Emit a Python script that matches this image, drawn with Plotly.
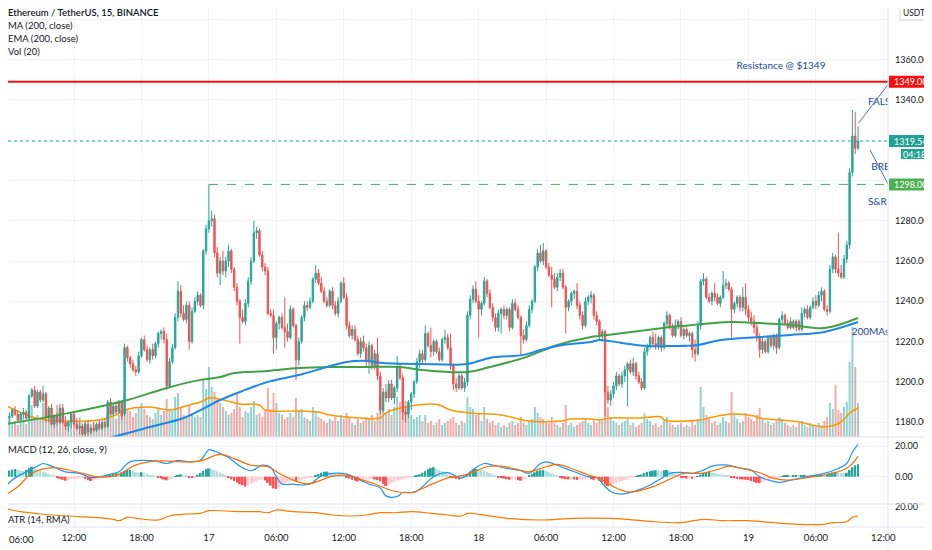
import pandas as pd
import plotly.graph_objects as go

# ETH/USDT 15m candles (Binance)
opens = [
    1180, 1182, 1184, 1182, 1183, 1186, 1184, 1181, 1184, 1185,
    1182, 1193, 1196, 1188, 1195, 1191, 1194, 1182, 1187, 1179,
    1183, 1180, 1187, 1180, 1178, 1180, 1184, 1179, 1177, 1178,
    1174, 1179, 1175, 1177, 1176, 1179, 1177, 1180, 1178, 1190,
    1184, 1188, 1185, 1190, 1184, 1217, 1212, 1209, 1206, 1205,
    1213, 1221, 1216, 1211, 1216, 1213, 1219, 1224, 1225, 1221,
    1198, 1210, 1217, 1232, 1245, 1234, 1231, 1238, 1220, 1235,
    1240, 1243, 1238, 1265, 1276, 1280, 1281, 1264, 1254, 1260,
    1255, 1260, 1265, 1256, 1247, 1240, 1232, 1230, 1239, 1250,
    1260, 1274, 1275, 1263, 1257, 1255, 1234, 1233, 1222, 1229,
    1232, 1227, 1225, 1222, 1236, 1228, 1211, 1220, 1232, 1238,
    1237, 1240, 1251, 1254, 1249, 1245, 1240, 1238, 1245, 1238,
    1234, 1240, 1249, 1242, 1228, 1223, 1226, 1221, 1214, 1220,
    1217, 1210, 1218, 1208, 1214, 1203, 1186, 1195, 1192, 1199,
    1192, 1197, 1207, 1202, 1185, 1184, 1190, 1194, 1200, 1210,
    1214, 1211, 1224, 1218, 1215, 1220, 1215, 1211, 1221, 1222,
    1217, 1208, 1199, 1197, 1203, 1197, 1200, 1233, 1241, 1246,
    1240, 1236, 1239, 1250, 1244, 1237, 1232, 1227, 1234, 1236,
    1233, 1236, 1227, 1239, 1236, 1232, 1223, 1221, 1228, 1236,
    1240, 1257, 1264, 1260, 1265, 1257, 1253, 1251, 1247, 1252,
    1254, 1247, 1237, 1240, 1244, 1245, 1238, 1233, 1228, 1240,
    1242, 1243, 1233, 1230, 1223, 1225, 1195, 1191, 1194, 1198,
    1203, 1199, 1203, 1206, 1209, 1205, 1209, 1203, 1200, 1197,
    1215, 1218, 1222, 1219, 1218, 1222, 1217, 1229, 1233, 1227,
    1223, 1228, 1230, 1223, 1226, 1223, 1224, 1216, 1214, 1228,
    1250, 1251, 1242, 1240, 1244, 1242, 1239, 1242, 1248, 1249,
    1246, 1236, 1239, 1242, 1237, 1242, 1236, 1232, 1230, 1227,
    1222, 1216, 1220, 1215, 1222, 1218, 1223, 1217, 1231, 1233,
    1229, 1227, 1230, 1227, 1230, 1226, 1234, 1236, 1232, 1237,
    1240, 1238, 1243, 1245, 1236, 1235, 1256, 1262, 1256, 1254,
    1252, 1261, 1268, 1304, 1322, 1316,
]
highs = [
    1184, 1186, 1187, 1185, 1187, 1188, 1186, 1185, 1187, 1186,
    1194, 1197, 1198, 1196, 1196, 1198, 1195, 1188, 1189, 1184,
    1185, 1189, 1189, 1183, 1181, 1185, 1185, 1182, 1180, 1179,
    1180, 1181, 1179, 1180, 1180, 1181, 1181, 1182, 1191, 1192,
    1189, 1190, 1191, 1191, 1219, 1218, 1213, 1211, 1208, 1215,
    1222, 1223, 1218, 1217, 1219, 1220, 1225, 1226, 1227, 1224,
    1212, 1219, 1234, 1250, 1248, 1238, 1240, 1240, 1237, 1242,
    1245, 1244, 1266, 1278, 1298, 1285, 1283, 1267, 1262, 1265,
    1262, 1268, 1266, 1257, 1249, 1241, 1236, 1241, 1252, 1262,
    1280, 1277, 1276, 1265, 1259, 1257, 1236, 1236, 1230, 1233,
    1234, 1242, 1229, 1238, 1237, 1229, 1222, 1233, 1240, 1240,
    1242, 1252, 1258, 1256, 1252, 1247, 1242, 1246, 1247, 1240,
    1242, 1250, 1252, 1244, 1230, 1228, 1228, 1223, 1222, 1223,
    1219, 1220, 1219, 1216, 1222, 1205, 1197, 1199, 1201, 1201,
    1198, 1213, 1209, 1204, 1188, 1191, 1195, 1201, 1212, 1216,
    1216, 1228, 1225, 1227, 1221, 1221, 1217, 1222, 1226, 1224,
    1224, 1209, 1202, 1204, 1204, 1202, 1235, 1243, 1248, 1250,
    1243, 1240, 1252, 1251, 1246, 1239, 1234, 1236, 1237, 1238,
    1237, 1237, 1241, 1241, 1238, 1233, 1226, 1230, 1238, 1241,
    1258, 1266, 1268, 1269, 1266, 1259, 1257, 1254, 1254, 1256,
    1256, 1248, 1241, 1245, 1246, 1249, 1240, 1235, 1242, 1243,
    1245, 1244, 1235, 1231, 1226, 1226, 1198, 1196, 1200, 1205,
    1204, 1205, 1208, 1210, 1211, 1212, 1210, 1205, 1202, 1217,
    1219, 1223, 1225, 1224, 1223, 1223, 1230, 1235, 1234, 1229,
    1231, 1231, 1232, 1227, 1227, 1225, 1225, 1221, 1230, 1251,
    1254, 1252, 1244, 1245, 1249, 1244, 1243, 1255, 1251, 1250,
    1247, 1240, 1243, 1243, 1247, 1249, 1238, 1235, 1233, 1229,
    1224, 1222, 1221, 1223, 1223, 1224, 1224, 1232, 1235, 1234,
    1231, 1232, 1231, 1231, 1231, 1237, 1237, 1238, 1238, 1242,
    1243, 1245, 1247, 1246, 1238, 1258, 1264, 1263, 1274, 1258,
    1263, 1270, 1306, 1335, 1334, 1327,
]
lows = [
    1177, 1180, 1181, 1179, 1182, 1183, 1180, 1180, 1182, 1181,
    1181, 1192, 1187, 1187, 1190, 1190, 1180, 1180, 1178, 1177,
    1178, 1179, 1179, 1176, 1175, 1177, 1178, 1176, 1174, 1172,
    1173, 1173, 1174, 1175, 1175, 1176, 1176, 1177, 1177, 1183,
    1183, 1184, 1184, 1181, 1183, 1210, 1207, 1205, 1203, 1204,
    1212, 1215, 1210, 1209, 1211, 1212, 1217, 1221, 1219, 1196,
    1197, 1209, 1216, 1230, 1232, 1230, 1229, 1216, 1219, 1234,
    1238, 1237, 1236, 1263, 1274, 1277, 1262, 1252, 1248, 1253,
    1252, 1257, 1254, 1245, 1238, 1219, 1229, 1228, 1237, 1248,
    1259, 1271, 1262, 1255, 1253, 1233, 1232, 1214, 1216, 1226,
    1226, 1217, 1220, 1221, 1227, 1201, 1208, 1219, 1230, 1235,
    1236, 1239, 1249, 1248, 1244, 1239, 1237, 1237, 1236, 1233,
    1232, 1239, 1241, 1226, 1222, 1221, 1220, 1213, 1212, 1215,
    1208, 1204, 1206, 1206, 1201, 1184, 1185, 1190, 1190, 1191,
    1189, 1195, 1201, 1181, 1180, 1182, 1186, 1192, 1199, 1207,
    1209, 1210, 1217, 1212, 1213, 1214, 1210, 1210, 1219, 1216,
    1206, 1196, 1195, 1196, 1196, 1195, 1198, 1231, 1239, 1239,
    1222, 1233, 1238, 1242, 1236, 1230, 1225, 1225, 1224, 1231,
    1231, 1225, 1226, 1235, 1231, 1213, 1219, 1220, 1227, 1234,
    1239, 1255, 1259, 1258, 1256, 1252, 1237, 1246, 1245, 1250,
    1246, 1224, 1235, 1238, 1241, 1236, 1231, 1226, 1227, 1238,
    1239, 1231, 1228, 1221, 1220, 1183, 1189, 1188, 1192, 1196,
    1198, 1197, 1200, 1188, 1204, 1203, 1201, 1199, 1196, 1196,
    1213, 1216, 1218, 1216, 1216, 1215, 1216, 1227, 1226, 1222,
    1222, 1226, 1222, 1221, 1222, 1220, 1212, 1210, 1213, 1226,
    1248, 1241, 1239, 1238, 1240, 1238, 1237, 1241, 1246, 1245,
    1222, 1234, 1237, 1235, 1235, 1233, 1230, 1228, 1224, 1220,
    1212, 1214, 1214, 1214, 1217, 1216, 1214, 1216, 1229, 1228,
    1226, 1226, 1226, 1225, 1225, 1225, 1232, 1231, 1231, 1236,
    1236, 1237, 1240, 1235, 1233, 1234, 1254, 1254, 1252, 1251,
    1251, 1259, 1266, 1302, 1313, 1315,
]
closes = [
    1182, 1184, 1182, 1183, 1186, 1184, 1181, 1184, 1185, 1182,
    1193, 1196, 1188, 1195, 1191, 1194, 1182, 1187, 1179, 1183,
    1180, 1187, 1180, 1178, 1180, 1184, 1179, 1177, 1178, 1174,
    1179, 1175, 1177, 1176, 1179, 1177, 1180, 1178, 1190, 1184,
    1188, 1185, 1190, 1183, 1217, 1212, 1209, 1206, 1205, 1213,
    1221, 1216, 1211, 1216, 1213, 1219, 1224, 1225, 1221, 1198,
    1210, 1217, 1232, 1245, 1234, 1231, 1238, 1220, 1235, 1240,
    1243, 1238, 1265, 1276, 1280, 1281, 1264, 1254, 1260, 1255,
    1260, 1265, 1256, 1247, 1240, 1232, 1230, 1239, 1250, 1260,
    1274, 1275, 1263, 1257, 1255, 1234, 1233, 1222, 1229, 1232,
    1227, 1225, 1222, 1236, 1228, 1211, 1220, 1232, 1238, 1237,
    1240, 1251, 1254, 1249, 1245, 1240, 1238, 1245, 1238, 1234,
    1240, 1249, 1242, 1228, 1223, 1226, 1221, 1214, 1220, 1217,
    1210, 1218, 1208, 1214, 1203, 1186, 1195, 1192, 1199, 1192,
    1197, 1207, 1202, 1185, 1184, 1190, 1194, 1200, 1210, 1214,
    1211, 1224, 1218, 1215, 1220, 1215, 1211, 1221, 1222, 1217,
    1208, 1199, 1197, 1203, 1197, 1200, 1233, 1241, 1246, 1240,
    1236, 1239, 1250, 1244, 1237, 1232, 1227, 1234, 1236, 1233,
    1236, 1227, 1239, 1236, 1232, 1223, 1221, 1228, 1236, 1240,
    1257, 1264, 1260, 1265, 1257, 1253, 1251, 1247, 1252, 1254,
    1247, 1237, 1240, 1244, 1245, 1238, 1233, 1228, 1240, 1242,
    1243, 1233, 1230, 1223, 1225, 1195, 1191, 1194, 1198, 1203,
    1199, 1203, 1206, 1209, 1205, 1209, 1203, 1200, 1197, 1215,
    1218, 1222, 1219, 1218, 1222, 1217, 1229, 1233, 1227, 1223,
    1228, 1230, 1223, 1226, 1223, 1224, 1216, 1214, 1228, 1250,
    1251, 1242, 1240, 1244, 1242, 1239, 1242, 1248, 1249, 1246,
    1236, 1239, 1242, 1237, 1242, 1236, 1232, 1230, 1227, 1222,
    1216, 1220, 1215, 1222, 1218, 1223, 1217, 1231, 1233, 1229,
    1227, 1230, 1227, 1230, 1226, 1234, 1236, 1232, 1237, 1240,
    1238, 1243, 1245, 1236, 1235, 1256, 1262, 1256, 1254, 1252,
    1261, 1268, 1304, 1322, 1316, 1319.54,
]
# volume in hundreds of ETH
volume = [
    28, 14, 11, 18, 14, 16, 12, 15, 20, 13,
    26, 32, 20, 22, 18, 34, 26, 16, 20, 14,
    32, 18, 24, 14, 16, 20, 12, 15, 20, 14,
    16, 12, 10, 14, 11, 15, 12, 13, 34, 26,
    20, 18, 22, 33, 44, 28, 26, 20, 24, 30,
    34, 28, 22, 20, 18, 24, 30, 22, 26, 38,
    28, 26, 40, 44, 30, 22, 20, 32, 24, 20,
    22, 20, 57, 48, 70, 50, 45, 38, 34, 30,
    26, 22, 24, 28, 43, 30, 20, 26, 24, 30,
    36, 22, 24, 20, 26, 49, 28, 44, 34, 24,
    22, 18, 20, 24, 20, 39, 26, 28, 20, 18,
    16, 30, 26, 20, 18, 16, 14, 18, 16, 20,
    16, 22, 18, 24, 20, 14, 12, 18, 14, 16,
    20, 18, 22, 16, 24, 41, 30, 24, 28, 22,
    30, 40, 35, 50, 36, 30, 22, 18, 20, 22,
    16, 22, 14, 16, 12, 14, 18, 12, 14, 16,
    18, 20, 14, 12, 16, 14, 40, 30, 28, 22,
    24, 16, 30, 18, 14, 16, 12, 14, 10, 12,
    10, 14, 16, 12, 14, 20, 14, 12, 16, 18,
    30, 24, 20, 18, 16, 14, 20, 14, 12, 10,
    14, 32, 12, 14, 10, 12, 14, 16, 18, 14,
    12, 16, 14, 18, 16, 52, 30, 20, 16, 14,
    12, 14, 16, 18, 12, 14, 10, 12, 14, 24,
    18, 16, 12, 14, 10, 12, 16, 20, 14, 12,
    10, 12, 14, 10, 12, 10, 16, 12, 18, 50,
    30, 22, 18, 14, 16, 12, 14, 20, 16, 14,
    45, 22, 18, 14, 16, 24, 20, 18, 16, 22,
    29, 18, 14, 16, 12, 14, 16, 20, 18, 14,
    12, 10, 12, 10, 14, 16, 12, 10, 14, 12,
    10, 14, 12, 16, 20, 34, 28, 52, 27, 24,
    30, 35, 75, 110, 70, 34,
]
macd_hist = [
    2.0, 2.8, 3.5, 4.0, 4.6, 5.0, 4.6, 4.2, 3.8, 4.5,
    5.6, 6.5, 5.8, 5.0, 4.2, 3.4, 2.8, 2.0, 1.4, 0.8,
    -0.6, -1.4, -2.0, -2.6, -2.2, -1.8, -1.5, -1.2, -1.0, -0.8,
    -1.4, -2.2, -2.8, -2.4, -1.8, -1.2, -0.8, -0.5, 0.6, 1.4,
    2.0, 2.6, 2.4, 2.8, 3.8, 4.4, 4.6, 3.8, 3.0, 2.6,
    3.0, 2.4, 1.8, 1.2, 0.8, 0.4, -0.6, -1.2, -1.8, -2.4,
    -2.0, -1.6, 0.4, 1.2, 1.6, 1.0, 0.6, -0.4, -0.8, -0.4,
    1.2, 2.5, 3.8, 4.8, 5.4, 5.0, 4.2, 3.4, 2.6, 1.8,
    1.0, -0.8, -1.8, -2.8, -3.8, -4.8, -5.6, -6.4, -5.8, -4.8,
    -3.8, -2.8, -2.2, -1.8, -2.4, -4.0, -5.8, -7.6, -8.0, -6.8,
    -5.6, -4.6, -3.8, -3.0, -2.6, -3.0, -2.4, -1.8, -1.4, -1.0,
    -0.6, -0.2, 0.8, 1.8, 2.6, 3.2, 3.4, 3.0, 2.4, 1.8,
    1.2, 0.6, 0.2, -0.4, -1.2, -2.0, -2.6, -3.2, -2.8, -2.2,
    -1.8, -1.6, -1.4, -1.8, -2.2, -3.0, -4.6, -6.0, -5.4, -4.4,
    -3.6, -2.6, -2.0, -1.8, -1.2, -0.8, -0.2, 0.4, 0.8, 1.6,
    2.6, 3.6, 4.8, 5.6, 6.2, 5.4, 4.6, 3.6, 2.8, 2.0,
    -0.4, -0.8, -1.4, -1.8, -1.2, 0.4, 1.8, 3.2, 4.4, 5.2,
    5.0, 4.6, 4.0, 3.2, 2.4, 1.6, 0.8, -0.4, -0.8, -1.2,
    -1.6, -2.0, -1.8, -1.6, -2.2, -2.6, -2.0, -1.4, 0.6, 1.6,
    2.8, 3.8, 4.2, 4.4, 3.8, 3.0, 2.2, 1.4, 0.6, -0.6,
    -1.2, -1.6, -1.8, -1.6, -1.8, -2.2, -2.0, -1.8, -1.4, -1.2,
    -1.6, -2.0, -1.8, -2.6, -3.6, -5.2, -6.2, -5.6, -4.8, -4.0,
    -3.4, -2.8, -2.2, -1.6, -1.0, -0.6, 0.4, 0.8, 1.4, 2.4,
    3.2, 3.6, 4.0, 4.2, 4.0, 3.8, 4.2, 4.4, 3.6, 2.8,
    2.0, 1.2, -0.4, -0.8, -1.2, -1.0, -1.4, -0.8, 0.4, 1.4,
    2.4, 3.0, 3.2, 2.8, 2.4, 2.0, 1.6, 1.2, 1.0, 0.6,
    -0.6, -1.0, -1.4, -1.6, -1.8, -2.0, -2.2, -2.8, -3.4, -4.0,
    -4.2, -3.6, -3.0, -2.4, -1.8, -1.2, -0.8, -0.4, 0.4, 0.6,
    0.8, 0.6, 0.8, 1.0, 0.8, 1.0, 1.2, 1.0, 0.8, 1.0,
    1.2, 1.4, 1.6, 1.2, 1.4, 2.2, 2.8, 3.2, 2.8, 2.4,
    2.2, 2.6, 4.4, 6.2, 7.4, 8.2,
]

# indicator lines, sampled at candle positions
ma200_idx = [0, 24, 45, 59, 71, 78, 83, 95, 106, 118, 130, 142, 150, 166, 174,
             186, 198, 210, 213, 230, 242, 260, 270, 281, 293, 305]
ma200 = [1178.6, 1184.5, 1191.0, 1197.0, 1201.0, 1202.4, 1204.4, 1205.4, 1206.9,
         1207.4, 1207.4, 1207.4, 1205.9, 1204.9, 1207.4, 1211.9, 1218.3, 1222.3,
         1222.8, 1225.8, 1227.7, 1229.7, 1229.2, 1228.3, 1226.7, 1231.7]
ema200_idx = [0, 21, 40, 53, 65, 71, 78, 85, 95, 106, 116, 123, 130, 136, 150, 166,
              174, 186, 192, 200, 210, 213, 221, 230, 237, 248, 256, 270, 281, 293, 305]
ema200 = [1162.0, 1167.0, 1172.7, 1177.6, 1182.1, 1186.0, 1191.0, 1195.0, 1200.0,
          1203.4, 1207.4, 1209.9, 1210.4, 1209.4, 1208.9, 1208.9, 1211.9, 1213.4,
          1215.8, 1218.3, 1219.8, 1220.8, 1219.3, 1217.8, 1217.8, 1218.3, 1220.8,
          1222.3, 1223.3, 1224.8, 1229.7]
vol_ma_idx = [0, 10, 16, 35, 41, 44, 53, 60, 67, 71, 74, 76, 82, 85, 92, 94, 106,
              113, 117, 128, 135, 137, 142, 146, 153, 156, 160, 167, 178, 188, 199,
              203, 210, 213, 217, 227, 235, 236, 249, 252, 260, 268, 270, 277, 284,
              293, 299, 302, 305]
vol_ma = [34, 21, 17, 17, 22, 27, 30, 27, 32, 35, 39, 39, 35, 33, 32, 27, 26, 25,
          22, 19, 19, 24, 29, 31, 33, 32, 27, 24, 22, 16, 16, 18, 18, 17, 19, 19,
          20, 17, 17, 19, 23, 21, 19, 17, 15, 10, 15, 24, 29]
macd_idx = [0, 4, 9, 13, 15, 18, 23, 28, 32, 35, 39, 42, 45, 47, 51, 55, 59, 63, 67,
            71, 73, 74, 78, 81, 85, 89, 93, 96, 98, 100, 104, 107, 110, 114, 118,
            123, 128, 131, 135, 137, 141, 143, 147, 150, 154, 159, 164, 168, 172,
            175, 180, 185, 188, 192, 194, 198, 204, 209, 212, 214, 217, 220, 224,
            227, 231, 235, 238, 242, 246, 250, 253, 258, 262, 267, 270, 274, 277,
            281, 287, 293, 298, 301, 303, 305]
macd_line = [-10.3, -2.1, 3.2, 6.9, 8.6, 6.9, 3.2, 2.2, -0.6, 0.0, 1.7, 3.2, 8.6,
             10.3, 10.7, 10.3, 8.6, 10.7, 9.7, 10.7, 15.5, 17.6, 15.1, 12.5, 6.9,
             3.9, 7.5, 6.0, 0.0, -4.7, -4.9, -5.4, -4.7, 0.6, 2.2, 1.7, -2.2, -4.9,
             -7.3, -12.5, -12.9, -10.3, -10.3, -6.5, 0.0, 2.6, -0.9, 4.7, 8.6, 7.5,
             5.4, 3.9, 2.2, 8.6, 9.7, 7.5, 3.2, 0.0, -0.4, -4.3, -9.7, -11.4, -10.3,
             -8.6, -5.4, -1.1, 2.2, 2.8, 2.2, 4.3, 6.9, 7.7, 6.0, 4.3, 0.0, -2.6,
             -3.7, -2.2, 0.0, 2.2, 5.4, 8.6, 16.1, 21.1]
signal_idx = [0, 6, 11, 16, 20, 25, 29, 34, 39, 43, 47, 52, 58, 64, 71, 78, 83, 89,
              95, 99, 104, 109, 114, 118, 123, 128, 134, 139, 146, 152, 159, 162,
              167, 173, 178, 184, 188, 194, 198, 204, 209, 213, 218, 223, 227, 232,
              238, 243, 249, 255, 259, 265, 270, 275, 280, 287, 293, 299, 302, 305]
signal_line = [-13.8, -6.5, 2.2, 5.4, 5.8, 3.9, 2.2, 0.0, 0.0, 2.2, 6.9, 9.5, 10.3,
               9.7, 10.3, 14.6, 11.8, 7.5, 6.5, 2.2, -2.2, -4.7, -2.2, 0.4, 0.9,
               -1.7, -5.4, -9.0, -10.3, -6.0, -0.8, 0.0, 2.2, 6.5, 6.9, 4.7, 3.2,
               6.5, 8.0, 4.7, 1.1, -1.1, -6.5, -9.9, -9.2, -6.5, -1.7, 2.2, 2.2, 4.7,
               6.9, 4.7, 2.6, -1.1, -2.2, -0.6, 1.1, 3.9, 6.9, 13.3]
atr_idx = [0, 7, 14, 24, 33, 40, 42, 45, 50, 56, 60, 66, 71, 74, 80, 86, 92, 95, 98,
           104, 112, 118, 125, 130, 135, 141, 146, 153, 159, 164, 166, 170, 180,
           192, 204, 216, 223, 232, 242, 250, 257, 266, 275, 284, 293, 296, 301,
           303, 305]
atr = [19.7, 15.3, 13.0, 11.0, 9.7, 7.7, 6.3, 9.7, 8.0, 7.0, 11.0, 13.0, 13.7, 16.3,
       16.0, 15.3, 15.3, 14.3, 17.0, 15.3, 14.3, 12.0, 11.0, 12.0, 14.3, 14.3, 15.3,
       13.7, 12.0, 11.0, 13.7, 12.7, 8.7, 7.0, 8.7, 8.7, 7.7, 5.3, 4.3, 7.7, 6.3,
       6.3, 4.3, 2.7, 2.7, 4.3, 5.3, 9.7, 11.0]

tick_times = ['2022-11-16 06:00', '2022-11-16 12:00', '2022-11-16 18:00',
              '2022-11-17 00:00', '2022-11-17 06:00', '2022-11-17 12:00',
              '2022-11-17 18:00', '2022-11-18 00:00', '2022-11-18 06:00',
              '2022-11-18 12:00', '2022-11-18 18:00', '2022-11-19 00:00',
              '2022-11-19 06:00', '2022-11-19 12:00']
tick_text = ['06:00', '12:00', '18:00', '17', '06:00', '12:00', '18:00', '18',
             '06:00', '12:00', '18:00', '19', '06:00', '12:00']
price_ticks = [1180, 1200, 1220, 1240, 1260, 1280, 1300, 1320, 1340, 1360, 1380]
# 1300/1320/1380 sit under the price tags and the USDT badge
price_text = ['1180.00', '1200.00', '1220.00', '1240.00', '1260.00', '1280.00', '',
              '', '1340.00', '1360.00', '']

resistance = 1349.0
last_price = 1319.54
breakout_level = 1298.0
countdown_y = 1313.1

times = pd.date_range('2022-11-16 05:30', periods=len(closes), freq='15min')
x_range = ['2022-11-16 06:07:41', '2022-11-19 12:25']

UP, DOWN = '#26a69a', '#ef5350'
RED = '#f70f0f'
TEAL_TAG = '#22a295'
GREEN_TAG = '#4caf50'
FONT = 'Lato, Open Sans, sans-serif'
NOTE = '#24489c'
TXT = '#131722'

vol_colors = ['rgba(38,166,154,0.5)' if c >= o else 'rgba(239,83,80,0.5)'
              for o, c in zip(opens, closes)]
hist_colors = []
for k, v in enumerate(macd_hist):
    prev = macd_hist[k - 1] if k else v
    if v >= 0:
        hist_colors.append('#26a69a' if v >= prev else '#b2dfdb')
    else:
        hist_colors.append('#ffcdd2' if v >= prev else '#ff5252')

fig = go.Figure()

fig.add_trace(go.Bar(x=times, y=volume, marker_color=vol_colors, marker_line_width=0,
                     xaxis='x', yaxis='y', hoverinfo='skip'))
fig.add_trace(go.Scatter(x=times[vol_ma_idx], y=vol_ma, mode='lines', line_shape='spline',
                         line=dict(color='#ff9800', width=1.5), xaxis='x', yaxis='y'))

fig.add_trace(go.Candlestick(
    x=times, open=opens, high=highs, low=lows, close=closes,
    increasing=dict(line=dict(color=UP, width=1), fillcolor=UP),
    decreasing=dict(line=dict(color=DOWN, width=1), fillcolor=DOWN),
    whiskerwidth=0, xaxis='x', yaxis='y2', hoverinfo='skip'))
fig.add_trace(go.Scatter(x=times[ma200_idx], y=ma200, mode='lines', line_shape='spline',
                         line=dict(color='#43a047', width=2), xaxis='x', yaxis='y2'))
fig.add_trace(go.Scatter(x=times[ema200_idx], y=ema200, mode='lines', line_shape='spline',
                         line=dict(color='#1e88e5', width=2), xaxis='x', yaxis='y2'))

# drawn notes, clipped to the price pane like on TradingView
fig.add_trace(go.Scatter(
    x=['2022-11-19 02:54', '2022-11-19 10:38', '2022-11-19 10:56', '2022-11-19 10:38',
       '2022-11-19 09:11'],
    y=[1356.4, 1338.9, 1306.4, 1289.0, 1224.5],
    text=['Resistance @ $1349', 'FALS', 'BRE', 'S&R', '200MAs'],
    mode='text', textposition=['middle center', 'middle right', 'middle right',
                               'middle right', 'middle right'],
    textfont=dict(family=FONT, size=10, color=NOTE), cliponaxis=True,
    xaxis='x', yaxis='y2'))

fig.add_trace(go.Bar(x=times, y=macd_hist, marker_color=hist_colors, marker_line_width=0,
                     xaxis='x', yaxis='y3', hoverinfo='skip'))
fig.add_trace(go.Scatter(x=times[macd_idx], y=macd_line, mode='lines', line_shape='spline',
                         line=dict(color='#2196f3', width=1.2), xaxis='x', yaxis='y3'))
fig.add_trace(go.Scatter(x=times[signal_idx], y=signal_line, mode='lines',
                         line_shape='spline', line=dict(color='#ff6d00', width=1.2),
                         xaxis='x', yaxis='y3'))

fig.add_trace(go.Scatter(x=times[atr_idx], y=atr, mode='lines', line_shape='spline',
                         line=dict(color='#f57c00', width=1.2), xaxis='x', yaxis='y4'))

# the page adds an 8px body margin, so the figure is laid out 8px up/left
H = 519.0   # plot area height
W = 880.0   # plot area width
PX = 2.015  # px per price unit in the main pane


def py(ref_y):
    return (527.0 - ref_y) / H


def px(ref_x):
    return (ref_x - 8.0) / W


grid = '#f0f3fa'
sep = '#e0e3eb'
axis_common = dict(side='right', showline=False, ticks='', zeroline=False,
                   automargin=False, gridcolor=grid, ticklabelstandoff=6,
                   tickfont=dict(family=FONT, size=9, color=TXT))

fig.update_layout(
    width=924, height=542,
    margin=dict(l=0, r=44, t=0, b=23, autoexpand=False),
    paper_bgcolor='white', plot_bgcolor='white',
    showlegend=False, barmode='overlay', bargap=0.3, boxgap=0.3,
    font=dict(family=FONT, size=10, color=TXT),
    xaxis=dict(domain=[0, 1], anchor='y4', type='date', range=x_range,
               tickvals=tick_times, ticktext=tick_text, showgrid=True, gridcolor=grid,
               ticks='', showline=False, zeroline=False, automargin=False,
               rangeslider=dict(visible=False), ticklabelstandoff=3,
               tickfont=dict(family=FONT, size=9.5, color=TXT)),
    yaxis=dict(domain=[py(437), 1], range=[0, 429], visible=False, automargin=False),
    yaxis2=dict(overlaying='y', anchor='x', range=[1172.65, 1385.56],
                tickvals=price_ticks, ticktext=price_text, **axis_common),
    yaxis3=dict(domain=[py(504), py(437)], anchor='x', range=[-17.8, 25.9],
                tickvals=[0, 20], tickformat='.2f', **axis_common),
    yaxis4=dict(domain=[0, py(504)], anchor='x', range=[0, 23],
                tickvals=[20], tickformat='.2f', **axis_common),
)


def tag_box(y, color, half_px=6, x0=889, x1=932):
    return dict(type='rect', xref='paper', yref='y2', x0=px(x0), x1=px(x1),
                y0=y - half_px / PX, y1=y + half_px / PX, fillcolor=color,
                line=dict(width=0), layer='above')


shapes = [
    dict(type='line', xref='x domain', yref='y2', x0=0, x1=1, y0=resistance,
         y1=resistance, line=dict(color=RED, width=2)),
    dict(type='line', xref='x domain', yref='y2', x0=0, x1=1, y0=last_price,
         y1=last_price, line=dict(color=UP, width=1, dash='dot')),
    dict(type='line', xref='x', yref='y2', x0=times[74], x1=x_range[1],
         y0=breakout_level, y1=breakout_level,
         line=dict(color='#4caf50', width=1, dash='dash')),
    dict(type='line', xref='x', yref='y2', x0='2022-11-19 09:47', y0=1328.3,
         x1='2022-11-19 12:25', y1=1347.6, line=dict(color='#4a72c8', width=1)),
    dict(type='line', xref='x', yref='y2', x0='2022-11-19 10:49', y0=1315.1,
         x1='2022-11-19 12:25', y1=1298.2, line=dict(color='#4a72c8', width=1)),
    # pane separators and price-scale border
    dict(type='line', xref='paper', yref='paper', x0=0, x1=px(932), y0=py(437),
         y1=py(437), line=dict(color=sep, width=1)),
    dict(type='line', xref='paper', yref='paper', x0=0, x1=px(932), y0=py(504),
         y1=py(504), line=dict(color=sep, width=1)),
    dict(type='line', xref='paper', yref='paper', x0=0, x1=px(932), y0=0, y1=0,
         line=dict(color=sep, width=1)),
    dict(type='line', xref='paper', yref='paper', x0=1, x1=1, y0=-23 / H, y1=1,
         line=dict(color=sep, width=1)),
    # price-scale tags
    tag_box(resistance, RED),
    tag_box(last_price, TEAL_TAG),
    tag_box(countdown_y, TEAL_TAG, half_px=5, x0=901, x1=928),
    tag_box(breakout_level, GREEN_TAG),
    dict(type='rect', xref='paper', yref='paper', x0=px(900), x1=px(928),
         y0=py(20), y1=py(6), fillcolor='white', line=dict(color='#d1d4dc', width=1),
         layer='above'),
]
fig.update_layout(shapes=shapes)


def legend_text(text, ref_y, weight=400):
    return dict(xref='paper', yref='paper', x=-1 / W, y=py(ref_y), xanchor='left',
                yanchor='middle', showarrow=False, text=text, borderpad=0,
                font=dict(family=FONT, size=9.5, color=TXT, weight=weight))


def tag_text(text, y, ref_x=910.5):
    return dict(xref='paper', yref='y2', x=px(ref_x), y=y, xanchor='center',
                yanchor='middle', showarrow=False, text=text, borderpad=0,
                font=dict(family=FONT, size=9, color='white'))


annotations = [
    legend_text('Ethereum / TetherUS, 15, BINANCE', 13, 600),
    legend_text('MA (200, close)', 25.5),
    legend_text('EMA (200, close)', 38.5),
    legend_text('Vol (20)', 51.5),
    legend_text('MACD (12, 26, close, 9)', 449),
    legend_text('ATR (14, RMA)', 519),
    tag_text('1349.00', resistance),
    tag_text('1319.54', last_price),
    tag_text('04:18', countdown_y, ref_x=914.5),
    tag_text('1298.00', breakout_level),
    dict(xref='paper', yref='paper', x=px(914), y=py(13), xanchor='center',
         yanchor='middle', showarrow=False, text='USDT', borderpad=0,
         font=dict(family=FONT, size=8.5, color=TXT)),
    # first time label sits at the very left edge
    dict(xref='paper', yref='paper', x=0, y=py(539), xanchor='left',
         yanchor='middle', showarrow=False, text='06:00', borderpad=0,
         font=dict(family=FONT, size=9.5, color=TXT)),
]
fig.update_layout(annotations=annotations)

fig.write_html('out.html')
